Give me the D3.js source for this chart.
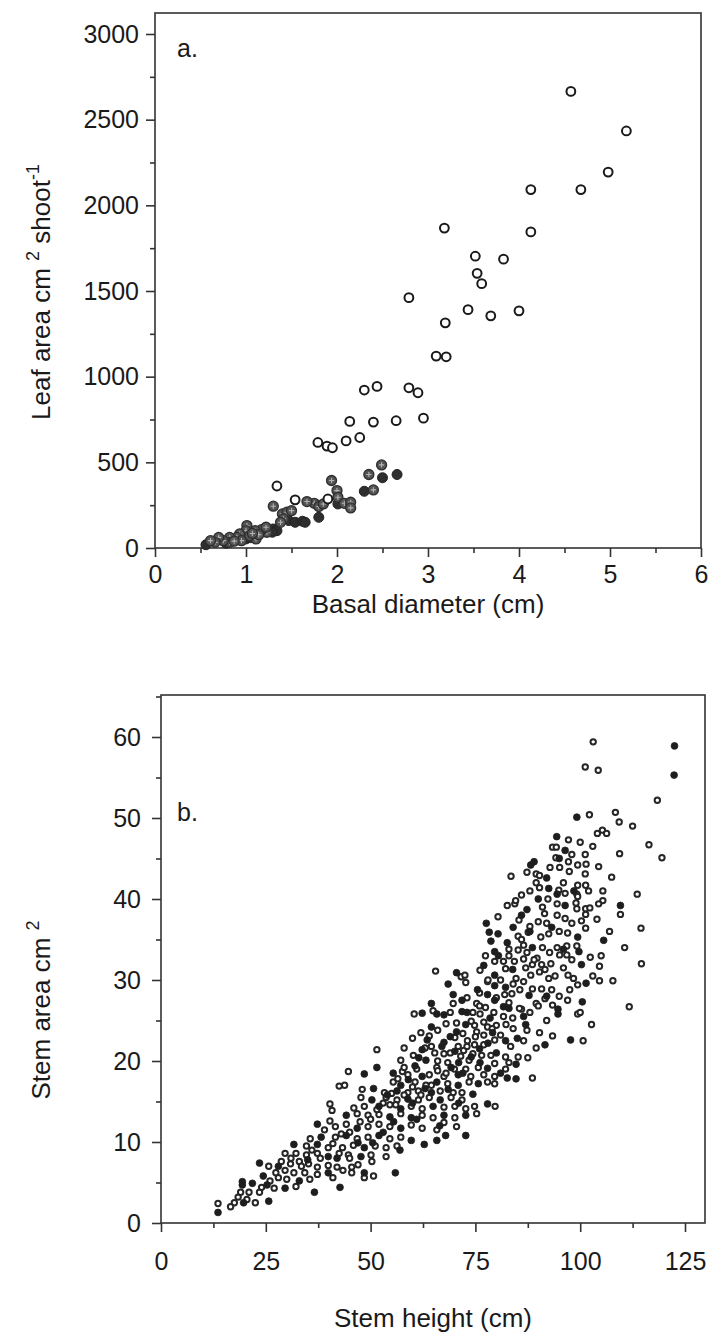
<!DOCTYPE html>
<html lang="en">
<head>
	<meta charset="utf-8"/>
	<title>Leaf area and stem area</title>
	<script src="https://cdnjs.cloudflare.com/ajax/libs/d3/7.8.5/d3.min.js"></script>
	<style>
		body { margin: 0; background: #fff; }
		svg text { font-family: "Liberation Sans", Arial, sans-serif; fill: #1a1a1a; }
	</style>
</head>
<body>
<svg id="chart" width="708" height="1335"></svg>
<script type="text/javascript">
// ---- panel a : leaf area vs basal diameter ----
var aOpenX = [4.57,5.18,4.98,4.13,4.68,3.18,4.13,3.52,3.83,3.54,3.59,2.79,3.44,4.00,3.69,3.19,3.09,3.20,
	2.30,2.44,2.79,2.89,2.14,2.40,2.65,2.95,1.79,1.89,1.95,2.10,2.25,1.34,1.54,1.90];
var aOpenY = [2665,2434,2194,2092,2092,1867,1845,1703,1686,1603,1543,1461,1391,1384,1355,1314,1120,1116,
	922,943,935,906,739,735,743,758,616,595,585,625,645,362,281,286];
// gray (cross-hatched) symbols
var aGrayX = [1.94,2.00,2.01,1.75,1.80,1.85,2.08,2.15,2.15,1.30,1.40,1.45,1.50,1.23,1.17,1.10,1.11,1.01,1.00,
	0.93,0.90,0.82,0.82,0.75,0.70,0.66,0.61,1.04,0.95,1.14,1.22,1.41,1.38,2.49,2.35,2.40,1.67,0.87,1.07];
var aGrayY = [394,335,296,261,242,257,261,267,234,244,199,209,218,92,107,101,53,131,101,
	82,62,62,33,43,62,33,43,72,43,78,121,170,150,485,429,339,271,40,85];
// dark filled symbols
var aDarkX = [1.80,2.01,1.47,1.54,1.62,1.65,1.30,1.34,1.29,1.00,0.56,2.50,2.66,2.30,1.20,1.05,0.78];
var aDarkY = [179,257,160,150,156,150,111,101,92,53,19,410,429,331,95,60,28];

var aXTicks = [0,1,2,3,4,5,6];
var aYTicks = [0,500,1000,1500,2000,2500,3000];

// ---- panel b : stem area vs stem height ----
var bOpen = [[103.1,59.4],[101.2,56.3],[104.3,55.9],[118.4,52.2],[102.2,50.4],[108.4,50.7],[109.3,49.5],[112.5,49.0],
	[104.1,48.1],[105.3,48.5],[106.3,48.1],[97.2,47.3],[93.4,46.4],[94.3,46.4],[116.4,46.7],[109.4,45.6],[119.5,45.1],
	[101.2,45.5],[94.2,45.1],[92.8,43.9],[95.1,43.9],[97.2,44.6],[99.4,44.2],[101.4,44.3],[104.4,44.0],[87.3,43.3],
	[89.5,43.1],[90.3,42.9],[97.4,43.4],[101.2,43.1],[83.5,42.8],[107.5,42.7],[89.5,42.0],[90.3,41.4],[94.9,41.1],
	[99.4,41.7],[101.3,41.7],[105.4,41.0],[96.4,40.7],[99.2,40.6],[113.6,40.6],[92.3,40.0],[99.4,40.3],[105.4,39.8],
	[104.4,39.4],[82.6,39.2],[84.4,39.4],[84.6,39.8],[94.5,39.4],[99.2,38.8],[101.3,38.8],[102.3,38.9],[91.5,38.2],
	[94.5,38.0],[96.4,37.6],[109.6,38.1],[101.3,38.1],[85.4,37.4],[100.3,37.3],[80.4,37.8],[101.3,36.4],[114.5,36.4],
	[85.2,35.4],[87.6,35.9],[90.6,35.3],[92.5,35.7],[86.5,34.3],[85.2,33.7],[110.6,34.0],[96.8,34.2],[94.5,34.0],
	[99.2,34.2],[87.3,33.4],[92.7,33.4],[95.1,33.1],[96.8,33.1],[102.4,32.8],[77.4,33.0],[83.0,33.0],[86.5,32.6],
	[89.7,32.7],[81.7,32.3],[84.3,32.3],[79.6,32.3],[76.1,31.2],[88.6,31.9],[90.8,31.9],[104.6,31.7],[114.6,32.0],
	[82.2,31.4],[91.6,31.3],[71.6,30.4],[72.5,30.6],[72.7,29.7],[65.5,31.1],[77.9,29.8],[84.7,30.2],[88.2,30.6],
	[90.3,31.0],[97.1,30.6],[98.4,30.2],[92.5,30.2],[104.6,29.9],[107.8,29.9],[99.4,29.4],[85.6,28.8],[88.6,28.9],
	[90.8,28.9],[93.2,28.8],[97.5,28.8],[83.7,28.3],[91.6,27.7],[83.0,27.2],[89.5,27.1],[93.4,26.9],[69.7,27.1],
	[75.3,27.1],[77.4,26.6],[86.0,26.4],[111.7,26.7],[99.4,25.8],[60.4,25.8],[64.9,26.2],[74.4,26.0],[76.1,25.8],
	[79.4,26.0],[81.7,25.5],[83.9,25.3],[102.7,24.5],[70.5,24.7],[74.8,24.4],[77.9,24.2],[80.0,24.4],[82.3,24.5],
	[75.3,23.6],[77.0,23.2],[87.3,23.8],[90.3,23.5],[93.4,23.1],[100.7,22.5],[64.0,23.1],[70.1,22.9],[73.1,22.5],
	[79.6,22.6],[86.5,22.5],[89.5,21.6],[64.5,21.8],[70.9,21.8],[74.8,22.0],[77.0,22.0],[83.4,21.8],[65.3,21.0],
	[67.5,20.9],[72.2,21.3],[74.4,20.9],[76.5,20.7],[78.7,20.7],[82.2,20.5],[85.2,20.5],[87.5,20.4],[60.2,20.7],
	[57.2,20.1],[51.5,21.4],[68.4,19.8],[73.5,20.1],[79.6,19.7],[83.0,19.8],[65.8,19.2],[72.7,19.0],[75.7,19.2],
	[82.2,19.0],[44.7,18.7],[57.6,18.7],[58.9,18.3],[64.0,18.3],[67.5,18.1],[73.9,18.1],[77.0,18.3],[79.6,18.1],
	[88.6,17.9],[77.9,17.4],[79.6,17.2],[42.5,16.9],[43.8,17.0],[55.4,17.4],[60.6,17.4],[63.2,17.0],[68.4,17.2],
	[73.5,17.4],[53.3,16.1],[58.9,16.1],[61.4,16.3],[66.6,16.3],[69.7,16.1],[71.8,16.1],[47.7,15.5],[53.7,15.5],
	[56.3,15.2],[61.4,15.2],[64.0,15.5],[69.2,15.5],[71.8,15.2],[79.7,14.4],[40.3,14.7],[40.8,13.9],[48.5,14.4],
	[54.6,14.6],[59.7,14.4],[62.3,14.1],[67.5,14.3],[70.1,14.4],[72.7,14.1],[74.8,14.4],[46.8,13.5],[49.4,13.3],
	[52.0,13.4],[57.2,13.5],[62.3,13.3],[64.9,13.0],[70.1,13.0],[75.3,13.5],[40.3,12.6],[39.0,11.5],[41.6,11.9],
	[44.2,12.2],[49.4,11.9],[52.0,12.2],[54.6,11.9],[59.7,12.1],[62.3,11.7],[65.8,11.5],[67.5,12.4],[70.5,11.9],
	[35.6,10.4],[41.6,10.6],[46.8,10.4],[49.4,10.6],[54.6,10.4],[57.2,10.6],[34.7,9.5],[39.9,9.3],[43.3,9.3],
	[45.9,9.6],[51.1,9.5],[53.7,9.3],[56.3,9.5],[29.6,8.6],[32.2,8.6],[34.7,8.4],[37.3,8.6],[42.5,8.6],[44.7,8.4],
	[50.1,8.4],[53.7,8.2],[25.7,7.0],[28.7,7.6],[30.9,7.3],[33.0,7.6],[35.2,7.3],[37.3,6.9],[39.9,7.1],[42.0,6.9],
	[45.5,6.9],[50.3,7.6],[45.5,6.2],[43.4,6.5],[37.3,6.0],[34.3,6.2],[31.7,6.2],[29.6,6.5],[27.4,6.2],[48.5,5.6],
	[50.7,5.8],[32.2,4.5],[27.0,4.3],[23.5,3.8],[20.5,2.9],[22.5,2.5],[18.4,3.2],[17.5,2.5],[16.6,2.0],[13.6,2.4],
	// denser core
	[58.0,21.6],[60.0,22.8],[62.0,23.5],[66.0,23.8],[68.0,24.6],[69.0,26.0],[73.0,27.8],[76.0,28.4],[78.0,30.0],
	[81.0,30.0],[83.0,33.8],[86.0,35.0],[88.0,36.6],[90.0,37.2],[92.0,37.0],[95.0,36.0],[97.0,35.8],[98.0,37.0],
	[91.0,39.0],[86.0,40.5],[88.0,41.0],[96.0,42.0],[98.0,45.5],[100.0,47.0],[103.0,46.5],[56.0,14.6],[58.0,15.8],
	[60.0,16.8],[62.0,15.8],[64.5,17.0],[66.0,18.8],[68.0,18.5],[70.0,19.0],[71.5,20.6],[73.0,21.8],[75.0,23.0],
	[77.0,24.8],[79.0,24.0],[81.0,23.2],[84.0,24.0],[85.5,26.5],[88.0,26.0],[90.0,26.8],[92.0,25.0],[95.0,28.0],
	[96.0,31.5],[98.0,32.5],[93.0,32.0],[87.0,31.5],[41.0,9.8],[43.0,11.0],[45.0,11.2],[47.5,12.5],[50.0,12.8],
	[51.5,14.0],[53.0,14.8],[55.0,16.0],[56.5,17.8],[58.0,19.2],[46.0,14.2],[48.0,16.5],[45.0,8.0],[47.0,7.2],
	[38.0,8.0],[36.0,9.0],[33.5,7.0],[31.0,8.0],[28.0,5.6],[26.0,5.2],[24.0,4.4],[21.0,3.8],[19.0,3.8],[30.0,5.4],
	[35.5,5.4],[41.0,5.6],[61.0,19.0],[63.0,21.6],[66.0,20.0],[69.0,21.0],[72.0,23.4],[74.0,24.9],[76.0,26.8],
	[80.0,27.8],[82.0,28.2],[84.0,29.5],[86.5,29.8],[89.0,32.5],[91.0,34.0],[94.0,30.5],[97.0,27.5],[100.0,26.0],
	[103.0,30.5],[105.0,33.0],[107.0,36.0],[104.0,37.5],[102.0,41.0],[99.0,39.5]];
var bFilled = [[122.5,58.9],[122.4,55.3],[99.2,50.1],[94.4,47.7],[96.4,46.0],[89.0,44.6],[88.2,44.2],[92.5,41.3],
	[94.5,40.6],[96.4,39.2],[109.6,39.2],[87.3,38.7],[77.6,37.0],[93.2,36.5],[78.3,35.9],[99.4,35.3],[80.4,35.7],
	[82.6,34.6],[105.6,34.9],[78.7,34.8],[88.6,34.0],[79.6,33.5],[99.7,33.5],[100.3,31.9],[83.9,31.3],[79.6,30.6],
	[70.5,30.9],[68.5,29.5],[101.4,29.6],[79.6,29.3],[82.2,29.1],[77.9,28.2],[87.8,28.1],[69.7,28.2],[79.6,27.5],
	[100.5,27.3],[71.8,27.5],[64.5,27.1],[81.7,26.7],[94.7,26.4],[94.7,25.8],[62.3,25.9],[65.8,25.8],[67.5,25.7],
	[71.8,26.1],[78.5,25.3],[86.5,25.5],[72.7,24.5],[64.5,24.2],[70.5,23.6],[79.1,23.5],[97.7,22.6],[67.5,22.3],
	[82.2,22.5],[91.6,22.0],[62.3,21.4],[70.1,21.2],[63.2,20.1],[71.0,19.8],[76.1,19.8],[84.7,19.6],[60.6,19.4],
	[69.2,19.2],[77.9,19.1],[51.5,19.2],[48.5,18.4],[55.4,18.5],[62.3,18.1],[70.9,18.3],[82.6,17.9],[84.7,17.8],
	[75.7,17.2],[57.2,17.0],[65.8,17.4],[70.9,17.0],[50.7,16.6],[56.3,16.3],[64.5,16.1],[74.4,15.9],[50.3,15.2],
	[58.9,15.3],[66.6,15.2],[77.9,14.7],[52.0,14.4],[57.2,14.1],[64.9,14.4],[44.2,13.3],[54.6,13.1],[59.7,13.0],
	[67.5,13.3],[72.7,13.3],[37.3,12.2],[46.8,11.7],[57.2,11.7],[72.7,10.8],[38.2,10.6],[44.2,10.8],[52.0,10.8],
	[59.7,10.2],[62.8,9.7],[65.8,10.2],[67.9,10.8],[31.7,9.7],[37.3,9.7],[48.5,9.3],[39.9,8.2],[47.7,8.2],
	[23.5,7.4],[55.9,6.2],[48.5,6.2],[39.9,6.2],[24.4,5.8],[21.8,4.9],[19.4,4.7],[19.4,5.1],[29.6,4.3],[25.3,4.7],
	[25.7,2.7],[19.7,2.5],[13.6,1.3],[36.6,3.8],[42.7,4.4],
	// denser core
	[59.0,17.7],[61.5,20.4],[63.5,22.6],[67.0,21.8],[69.0,23.0],[73.0,26.0],[75.5,28.8],[77.0,31.8],[80.5,33.0],
	[84.0,36.5],[86.0,38.0],[90.0,40.0],[92.0,42.6],[95.0,45.0],[88.0,36.0],[83.0,26.5],[85.0,22.8],[80.0,21.0],
	[76.0,21.5],[72.0,18.5],[68.5,16.5],[63.0,16.6],[60.0,14.8],[55.5,12.5],[53.0,11.2],[50.5,9.9],[47.0,9.9],
	[42.0,8.0],[35.0,7.8],[33.0,5.2],[28.0,7.0],[54.0,15.8],[66.5,12.0],[61.0,12.8],[57.0,9.0],[71.0,14.8],
	[74.0,20.5],[78.0,22.2],[81.0,18.5],[87.0,24.5],[92.0,28.0],[96.0,33.8],[98.5,41.0]];

var bXTicks = [0,25,50,75,100,125];
var bYTicks = [0,10,20,30,40,50,60];

var svg = d3.select("#chart");
var FS = 26;   // axis titles
var TS = 25;   // tick labels

// draws frame, ticks and tick labels for one panel
function drawPanel(p) {
	var g = svg.append("g");
	var x0 = p.x.range()[0], y0 = p.y.range()[0];
	g.append("rect")
		.attr("x", x0).attr("y", p.top)
		.attr("width", p.right - x0).attr("height", y0 - p.top)
		.attr("fill", "none").attr("stroke", "#333").attr("stroke-width", 1.6);

	// x ticks, pointing down
	g.append("g").attr("transform", "translate(0," + y0 + ")")
		.call(d3.axisBottom(p.x).tickValues(p.xMinor).tickSize(5).tickFormat(""));
	g.append("g").attr("transform", "translate(0," + y0 + ")")
		.call(d3.axisBottom(p.x).tickValues(p.xTicks).tickSize(9).tickPadding(p.xPad).tickFormat(d3.format("d")));

	// y ticks, pointing left
	g.append("g").attr("transform", "translate(" + x0 + ",0)")
		.call(d3.axisLeft(p.y).tickValues(p.yMinor).tickSize(5).tickFormat(""));
	g.append("g").attr("transform", "translate(" + x0 + ",0)")
		.call(d3.axisLeft(p.y).tickValues(p.yTicks).tickSize(9).tickPadding(p.yPad).tickFormat(d3.format("d")));

	g.selectAll(".domain").remove();
	g.selectAll(".tick line").attr("stroke", "#333").attr("stroke-width", 1.6);
	g.selectAll(".tick text").attr("font-size", TS).attr("fill", "#1a1a1a")
		.style("font-family", "'Liberation Sans', Arial, sans-serif");
	return g;
}

// ---- panel a ----
var xa = d3.scaleLinear().domain([0, 6]).range([155, 701]);
var ya = d3.scaleLinear().domain([0, 3000]).range([548, 34]);
drawPanel({x: xa, y: ya, top: 13, right: 701, xPad: 8, yPad: 7,
	xTicks: aXTicks, xMinor: d3.range(0.5, 6, 1),
	yTicks: aYTicks, yMinor: d3.range(250, 3000, 500)});

var ga = svg.append("g");
ga.selectAll(".dk").data(aDarkX).enter().append("circle")
	.attr("cx", function(d) { return xa(d); })
	.attr("cy", function(d, i) { return ya(aDarkY[i]); })
	.attr("r", 5).attr("fill", "#2e2e2e").attr("stroke", "#222").attr("stroke-width", 1);
var gray = ga.selectAll(".gr").data(aGrayX).enter().append("g")
	.attr("transform", function(d, i) { return "translate(" + xa(d) + "," + ya(aGrayY[i]) + ")"; });
gray.append("circle").attr("r", 5).attr("fill", "#555").attr("stroke", "#2e2e2e").attr("stroke-width", 1.3);
gray.append("path").attr("d", "M-2.6,0H2.6M0,-2.6V2.6").attr("stroke", "#b5b5b5").attr("stroke-width", 1.1);
ga.selectAll(".op").data(aOpenX).enter().append("circle")
	.attr("cx", function(d) { return xa(d); })
	.attr("cy", function(d, i) { return ya(aOpenY[i]); })
	.attr("r", 4.4).attr("fill", "#fff").attr("stroke", "#1a1a1a").attr("stroke-width", 2);

svg.append("text").attr("x", 177).attr("y", 57).attr("font-size", 25).text("a.");
svg.append("text").attr("x", 428).attr("y", 613).attr("font-size", FS).attr("text-anchor", "middle")
	.text("Basal diameter (cm)");
var ta = svg.append("text").attr("transform", "translate(50,292) rotate(-90)")
	.attr("font-size", FS).attr("text-anchor", "middle");
ta.append("tspan").text("Leaf area cm ");
ta.append("tspan").attr("font-size", 18).attr("dy", -11).text("2");
ta.append("tspan").attr("dy", 11).text(" shoot");
ta.append("tspan").attr("font-size", 18).attr("dy", -11).text("-1");

// ---- panel b ----
var xb = d3.scaleLinear().domain([0, 125]).range([161, 685]);
var yb = d3.scaleLinear().domain([0, 60]).range([1223, 737]);
drawPanel({x: xb, y: yb, top: 695, right: 705, xPad: 20, yPad: 11,
	xTicks: bXTicks, xMinor: d3.range(12.5, 125, 25),
	yTicks: bYTicks, yMinor: d3.range(5, 66, 10)});

var gb = svg.append("g");
gb.selectAll(".bo").data(bOpen).enter().append("circle")
	.attr("cx", function(d) { return xb(d[0]); })
	.attr("cy", function(d) { return yb(d[1]); })
	.attr("r", 2.7).attr("fill", "#fff").attr("stroke", "#262626").attr("stroke-width", 2);
gb.selectAll(".bf").data(bFilled).enter().append("circle")
	.attr("cx", function(d) { return xb(d[0]); })
	.attr("cy", function(d) { return yb(d[1]); })
	.attr("r", 3.4).attr("fill", "#1e1e1e").attr("stroke", "#1e1e1e").attr("stroke-width", 0.8);

svg.append("text").attr("x", 177).attr("y", 821).attr("font-size", 25).text("b.");
svg.append("text").attr("x", 433).attr("y", 1327).attr("font-size", FS).attr("text-anchor", "middle")
	.text("Stem height (cm)");
var tb = svg.append("text").attr("transform", "translate(50,1010) rotate(-90)")
	.attr("font-size", FS).attr("text-anchor", "middle");
tb.append("tspan").text("Stem area cm ");
tb.append("tspan").attr("font-size", 18).attr("dy", -11).text("2");
</script>
</body>
</html>
